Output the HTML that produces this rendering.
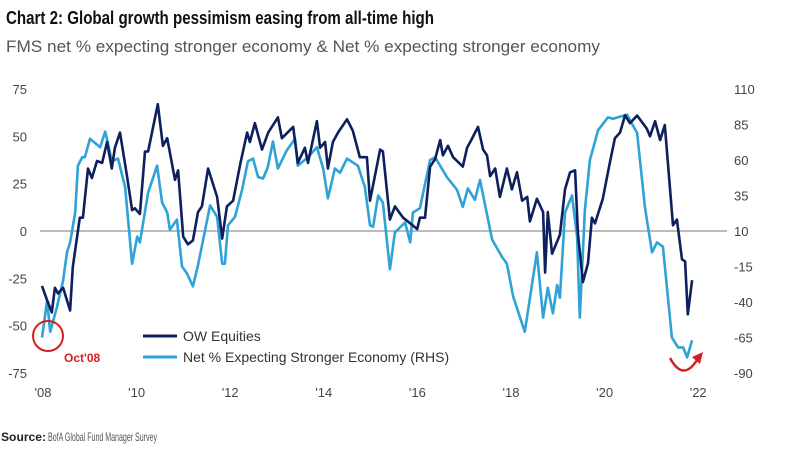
<!DOCTYPE html>
<html><head><meta charset="utf-8"><style>
body{margin:0;background:#fff;width:785px;height:454px;overflow:hidden}
svg{display:block}
text{font-family:"Liberation Sans",sans-serif}
</style></head><body>
<svg id="chart" width="785" height="454">
<text x="6" y="24" font-size="18" font-weight="bold" fill="#111" textLength="428" lengthAdjust="spacingAndGlyphs">Chart 2: Global growth pessimism easing from all-time high</text>
<text x="6" y="52" font-size="17" fill="#555" textLength="594" lengthAdjust="spacingAndGlyphs">FMS net % expecting stronger economy &amp; Net % expecting stronger economy</text>
<text x="1" y="441" font-size="12" font-weight="bold" fill="#222" textLength="45" lengthAdjust="spacingAndGlyphs">Source:</text>
<text x="48" y="441" font-size="12" fill="#555" textLength="109" lengthAdjust="spacingAndGlyphs">BofA Global Fund Manager Survey</text>
<line x1="40" y1="231" x2="727" y2="231" stroke="#777" stroke-width="1"/>
<g id="ticks"></g>
<g id="series"></g>
<g>
<line x1="143" y1="336" x2="177" y2="336" stroke="#0d1f5c" stroke-width="3"/>
<text x="183" y="341" font-size="14" fill="#333">OW Equities</text>
<line x1="143" y1="357" x2="177" y2="357" stroke="#2fa2d6" stroke-width="3"/>
<text x="183" y="362" font-size="14" fill="#333">Net % Expecting Stronger Economy (RHS)</text>
</g>
<circle cx="48" cy="336" r="15" fill="none" stroke="#d42020" stroke-width="2"/>
<text x="64" y="362" font-size="12" font-weight="bold" fill="#d42020">Oct'08</text>
<path d="M670,358 Q683,382 697,360" fill="none" stroke="#d42020" stroke-width="2.5"/>
<polygon points="703,352 692,357 700,364" fill="#d42020"/>
</svg>
<script>
const leftTicks=[75,50,25,0,-25,-50,-75];
const rightTicks=[110,85,60,35,10,-15,-40,-65,-90];
const yearLabels=["'08","'10","'12","'14","'16","'18","'20","'22"];
const yearMonths=[0,24,48,72,96,120,144,168];
const owMonths=[0,1.2,2.5,3.3,4.1,5.4,7.2,7.9,9.7,10.5,11.8,12.8,14.1,15.4,16.7,17.9,18.7,20,21.8,23.1,23.8,25.1,26.4,27.2,29.7,31,32.1,34.1,34.9,36.2,37.4,38.7,40,41,42.6,44.9,46.2,47.4,49,50.8,52.6,53.3,54.6,56.4,58,60.5,61.5,64.4,65.6,67.4,68.2,70.5,71.3,72.6,73.3,74.6,75.9,78.2,79.7,81.5,83.3,84.1,86.7,87.4,89.2,90.5,92.6,94.4,96.2,96.9,98.2,99.5,100.8,102.1,102.8,104.1,105.4,107.9,109,110.3,111.8,113.1,114.1,114.9,116.2,117.4,119.2,120.5,121.8,123.1,124.4,125.1,126.9,128.5,129,129.7,130.8,132.8,134.1,135.4,136.7,137.4,138.7,140,141,141.8,143.8,145.6,146.9,148.2,149.5,150.8,152.6,155.1,155.9,157.2,158.5,159.7,161.8,162.8,164.1,164.9,165.6,166.7];
const owValues=[-29,-36,-43,-30,-33,-30,-42,-19,7,7,33,28,37,36,47,33,44,52,29,11,12,9,42,42,67,45,49,27,32,-3,-7,-5,10,13,33,18,-4,13,16,35,52,47,57,43,52,60,49,55,36,44,36,58,44,47,33,47,52,59,53,39,39,16,43,42,6,13,7,4,1,7,7,34,38,48,40,45,39,34,44,49,55,43,40,29,33,18,33,22,31,16,18,5,17,10,-22,10,-12,-2,22,31,32,-1,-27,-17,7,4,17,36,49,52,61,57,61,54,50,58,48,56,3,6,-15,-16,-44,-26];
const econMonths=[0,1.3,2.1,3.8,5.4,6.4,7.2,8.5,9.2,10.3,11,12.3,14.9,16.2,16.9,17.9,19.5,21.3,23.1,24.4,25.1,27.2,29.5,30.8,32.1,32.8,34.6,35.9,37.2,38.7,40,43.1,44.9,46.2,46.9,47.7,49.5,51.3,52.8,54.1,55.4,56.7,57.9,59.2,60.5,62.8,64.9,65.6,68.2,70.5,72.1,73.3,75.1,76.4,78.2,81,82.8,84.1,84.9,86.2,87.4,89.2,90.5,93.1,94.4,95.1,96.9,99.5,100.8,103.8,106.4,107.9,109.2,111,112.3,115.4,117.9,119.2,120.8,123.8,126.9,128.5,129.7,131,132.1,132.8,134.1,135.9,137.2,137.9,139.2,140.5,142.6,145.1,146.4,150,152.6,154.6,156.4,157.7,159.2,161.5,163.1,164.4,165.4,166.7];
const econValues=[-65,-39,-61,-44,-25,-5,2,23,56,62,62,75,69,80,72,59,61,41,-13,6,2,37,56,30,23,11,18,-15,-20,-29,-14,28,20,-13,-13,14,20,39,59,61,48,47,55,73,54,67,75,56,62,69,54,33,54,51,61,56,41,14,13,35,30,-17,9,16,2,23,26,60,62,48,39,27,40,32,46,4,-8,-13,-36,-61,-5,-51,-30,-48,-28,-37,23,35,6,-51,25,60,81,90,89,92,79,27,-5,2,-1,-65,-72,-72,-79,-67];
const NS='http://www.w3.org/2000/svg';
const xS=m=>42+m*3.9;
const yL=v=>231-v*1.893;
const yR=v=>231-(v-10)*1.42;
const tg=document.getElementById('ticks'), sg=document.getElementById('series');
function txt(x,y,s,anchor){const t=document.createElementNS(NS,'text');t.setAttribute('x',x);t.setAttribute('y',y);t.setAttribute('font-size','13');t.setAttribute('fill','#444');t.setAttribute('text-anchor',anchor);t.textContent=s;tg.appendChild(t);return t;}
leftTicks.forEach(v=>{const t=txt(27,yL(v)+5,String(v),'end');

});
rightTicks.forEach(v=>{const t=txt(734,yR(v)+5,String(v),'start');

});
yearLabels.forEach((s,i)=>{const t=txt(xS(yearMonths[i])+1,397,s,'middle');

});
function line(ms,vs,yf,color,name){const p=document.createElementNS(NS,'polyline');
p.setAttribute('points',ms.map((m,i)=>xS(m).toFixed(1)+','+yf(vs[i]).toFixed(1)).join(' '));
p.setAttribute('fill','none');p.setAttribute('stroke',color);p.setAttribute('stroke-width','2.6');p.setAttribute('stroke-linejoin','round');


sg.appendChild(p);}
line(econMonths,econValues,yR,'#2fa2d6','net-expecting-stronger-economy-line');
line(owMonths,owValues,yL,'#0d1f5c','ow-equities-line');
</script>
</body></html>
